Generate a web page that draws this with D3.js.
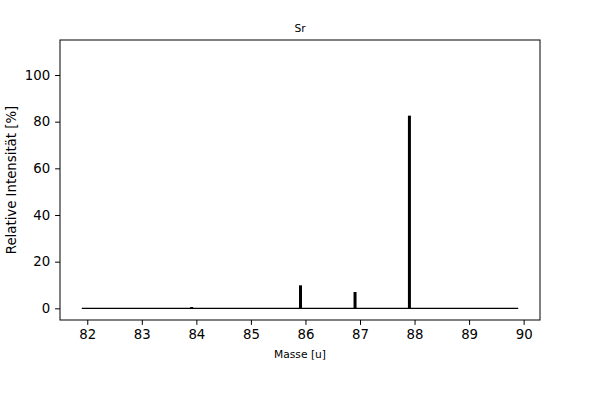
<!DOCTYPE html>
<html>
<head>
<meta charset="utf-8">
<script src="https://cdn.jsdelivr.net/npm/d3@7"></script>
<style>
  body { margin: 0; background: #fff; }
  svg text { font-family: "DejaVu Sans", sans-serif; fill: #000; }
</style>
</head>
<body>
<div id="chart"></div>
<script>
// isotope masses and relative abundances for Sr
const masses = [83.913, 85.909, 86.909, 87.906];
const intensities = [0.56, 9.86, 7.0, 82.58];
const baseline = [81.9, 89.9];
const xTicks = [82, 83, 84, 85, 86, 87, 88, 89, 90];
const yTicks = [0, 20, 40, 60, 80, 100];
const title = "Sr";

const W = 600, H = 400;
const margin = {top: 40, right: 60, bottom: 80, left: 60};
const width = W - margin.left - margin.right,
      height = H - margin.top - margin.bottom;

const svg = d3.select("#chart").append("svg")
  .attr("width", W).attr("height", H);

const g = svg.append("g")
  .attr("transform", "translate(" + margin.left + "," + margin.top + ")");

const x = d3.scaleLinear().domain([81.5, 90.3]).range([0, width]);
const y = d3.scaleLinear().domain([-5, 115]).range([height, 0]);

// baseline
g.append("line")
  .attr("x1", x(baseline[0])).attr("x2", x(baseline[1]))
  .attr("y1", y(0)).attr("y2", y(0))
  .attr("stroke", "#000").attr("stroke-width", 1.2);

// peaks
g.selectAll(".peak")
  .data(masses)
  .enter()
  .append("line")
    .attr("class", "peak")
    .attr("x1", d => x(d)).attr("x2", d => x(d))
    .attr("y1", y(0))
    .attr("y2", (d, i) => y(intensities[i]))
    .attr("stroke", "#000")
    .attr("stroke-width", 3);

// axes
const xAxis = g.append("g")
  .attr("transform", "translate(0," + height + ")")
  .call(d3.axisBottom(x).tickValues(xTicks).tickFormat(d3.format("d")).tickSizeOuter(0).tickSize(4.9).tickPadding(4.9));
const yAxis = g.append("g")
  .call(d3.axisLeft(y).tickValues(yTicks).tickSizeOuter(0).tickSize(4.9).tickPadding(4.9));

[xAxis, yAxis].forEach(a => {
  a.select(".domain").remove();
  a.selectAll("text").style("font-size", "13.3px").attr("font-family", null);
  a.selectAll("line").attr("stroke", "#000").attr("stroke-width", 1);
});

// frame
g.append("rect")
  .attr("width", width).attr("height", height)
  .attr("fill", "none").attr("stroke", "#000").attr("stroke-width", 1);

// labels
svg.append("text")
  .attr("x", margin.left + width / 2).attr("y", 32)
  .attr("text-anchor", "middle")
  .style("font-size", "10.7px")
  .text(title);

svg.append("text")
  .attr("x", margin.left + width / 2).attr("y", 358)
  .attr("text-anchor", "middle")
  .style("font-size", "10.7px")
  .text("Masse [u]");

svg.append("text")
  .attr("transform", "translate(15.5," + (margin.top + height / 2) + ") rotate(-90)")
  .attr("text-anchor", "middle")
  .style("font-size", "13.3px")
  .text("Relative Intensität [%]");
</script>
</body>
</html>
